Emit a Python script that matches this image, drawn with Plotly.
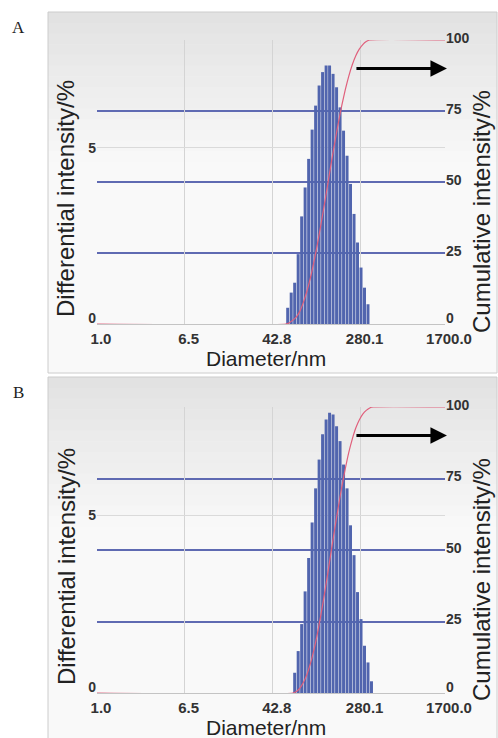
import numpy as np
import plotly.graph_objects as go

# ---------------- data ----------------
tick_values = [1.0, 6.5, 42.8, 280.1, 1700.0]
tick_labels = ["1.0", "6.5", "42.8", "280.1", "1700.0"]
left_ticks = [0, 5]
right_ticks = [0, 25, 50, 75, 100]

diam_a = [58.9, 63.5, 68.4, 73.7, 79.4, 85.5, 92.2, 99.3, 107.0, 115.3, 124.2, 133.9,
          144.2, 155.4, 167.5, 180.4, 194.4, 209.5, 225.7, 243.2, 262.1, 282.4, 304.3, 327.8]
diff_a = [0.46, 0.89, 1.17, 1.98, 3.05, 3.87, 4.68, 5.51, 6.19, 6.76, 7.14, 7.33,
          7.33, 7.09, 6.71, 6.14, 5.48, 4.77, 3.97, 3.12, 2.31, 1.60, 1.03, 0.56]

diam_b = [68.4, 73.7, 79.4, 85.5, 92.2, 99.3, 107.0, 115.3, 124.2, 133.9, 144.2, 155.4,
          167.5, 180.4, 194.4, 209.5, 225.7, 243.2, 262.1, 282.4, 304.3, 327.8, 353.2]
diff_b = [0.57, 1.18, 1.94, 2.86, 3.80, 4.80, 5.76, 6.57, 7.28, 7.70, 7.89, 7.84,
          7.51, 7.09, 6.43, 5.76, 4.72, 3.88, 2.84, 2.08, 1.33, 0.86, 0.33]

arrow_from = 248.0   # diameter where arrow starts
arrow_level = 90     # cumulative % level of arrow

# ---------------- helpers ----------------
W, H = 498, 738
FONT = "Arial, 'Liberation Sans', sans-serif"
BAR_COLOR = "#5165ae"
GRID_BLUE = "#5f6ab2"
LINE_RED = "#e0607c"
LEFT_MAX = 8.05


def px(x):
    return x / W


def py(y):
    return 1 - y / H


def cumulative(diam, vals):
    lx = np.log10(np.array(diam))
    step = np.diff(lx)
    edges = np.concatenate([[lx[0] - step[0] / 2], lx[:-1] + step / 2, [lx[-1] + step[-1] / 2]])
    cum = np.concatenate([[0.0], np.cumsum(vals) / np.sum(vals) * 100])
    x = np.concatenate([[np.log10(tick_values[0])], edges, [np.log10(tick_values[-1])]])
    y = np.concatenate([[0.0], cum, [100.0]])
    return x, y


fig = go.Figure()

panels = [
    dict(diam=diam_a, vals=diff_a, top=40, bottom=324, box=(12, 373), letter="A",
         letter_y=28, xa="x", ya="y", yb="y2", yc="y5", yd="y6"),
    dict(diam=diam_b, vals=diff_b, top=407, bottom=693, box=(377, 745), letter="B",
         letter_y=393, xa="x2", ya="y3", yb="y4", yc="y7", yd="y8"),
]

shapes = []
annotations = []


def axname(ref):
    return ref[0] + "axis" + ("" if ref[1:] in ("", "1") else ref[1:])


for i, p in enumerate(panels):
    # background panel with vertical gradient
    y0, y1 = p["box"]
    n = 14
    g0 = np.array([226, 226, 226])
    g1 = np.array([249, 249, 249])
    grad_end = y0 + 150
    for k in range(n):
        a = y0 + (grad_end - y0) * k / n
        b = y0 + (grad_end - y0) * (k + 1) / n
        c = g0 + (g1 - g0) * (k + 0.5) / n
        shapes.append(dict(type="rect", xref="paper", yref="paper", layer="below",
                           x0=px(48), x1=px(497), y0=py(b + 0.5), y1=py(a),
                           fillcolor="rgb(%d,%d,%d)" % tuple(c.astype(int)), line_width=0))
    shapes.append(dict(type="rect", xref="paper", yref="paper", layer="below",
                       x0=px(48), x1=px(497), y0=py(min(y1, H)), y1=py(grad_end),
                       fillcolor="rgb(249,249,249)", line_width=0))
    shapes.append(dict(type="rect", xref="paper", yref="paper", layer="below",
                       x0=px(48), x1=px(497), y0=py(y1), y1=py(y0),
                       fillcolor="rgba(0,0,0,0)", line=dict(color="#cccccc", width=1)))

    lx = np.log10(p["diam"])
    fig.add_trace(go.Bar(x=lx, y=p["vals"], xaxis=p["xa"], yaxis=p["ya"],
                         marker=dict(color=BAR_COLOR, line=dict(width=0)),
                         hoverinfo="skip"))
    cx, cy = cumulative(p["diam"], p["vals"])
    fig.add_trace(go.Scatter(x=cx, y=cy, xaxis=p["xa"], yaxis=p["yb"], mode="lines",
                             line=dict(color=LINE_RED, width=1.2, shape="spline", smoothing=0.6),
                             hoverinfo="skip"))
    # invisible helpers so the zero-label axes are laid out
    fig.add_trace(go.Scatter(x=[lx[0]], y=[0], xaxis=p["xa"], yaxis=p["yc"], mode="markers",
                             marker=dict(opacity=0), hoverinfo="skip"))
    fig.add_trace(go.Scatter(x=[lx[0]], y=[0], xaxis=p["xa"], yaxis=p["yd"], mode="markers",
                             marker=dict(opacity=0), hoverinfo="skip"))

    ctr = (p["top"] + p["bottom"]) / 2
    common = dict(xref="paper", yref="paper", showarrow=False, xanchor="center", yanchor="middle")
    annotations += [
        dict(text=p["letter"], x=px(18), y=py(p["letter_y"]),
             font=dict(family="'Times New Roman', 'Liberation Serif', serif", size=17, color="#222"),
             **common),
        dict(text="Differential intensity/%", x=px(66), y=py(ctr + 17), textangle=-90,
             font=dict(family=FONT, size=24, color="#222"), **common),
        dict(text="Cumulative intensity/%", x=px(481), y=py(ctr + 30), textangle=-90,
             font=dict(family=FONT, size=24, color="#222"), **common),
        dict(text="Diameter/nm", x=px(266), y=py(p["bottom"] + 34),
             font=dict(family=FONT, size=21, color="#222"), **common),
        dict(text="", x=np.log10(tick_values[-1]) + 0.018, y=arrow_level, xref=p["xa"], yref=p["yb"],
             ax=np.log10(arrow_from), ay=arrow_level, axref=p["xa"], ayref=p["yb"],
             showarrow=True, arrowhead=2, arrowsize=1.1, arrowwidth=3, arrowcolor="#000"),
    ]

    xdom = [px(97), px(445)]
    ydom = [py(p["bottom"]), py(p["top"])]
    xtickfont = dict(family=FONT, size=15, color="#333", weight="bold")
    ytickfont = dict(family=FONT, size=14, color="#333", weight="bold")
    base_y = dict(domain=ydom, anchor=p["xa"], showline=False, ticks="", tickfont=ytickfont,
                  automargin=False, tickmode="array")
    fig.update_layout(**{
        axname(p["xa"]): dict(domain=xdom, anchor=p["ya"], range=[0, np.log10(tick_values[-1])],
                              tickmode="array", tickvals=np.log10(tick_values), ticktext=tick_labels,
                              showgrid=True, gridcolor="#d4d4d4", gridwidth=1, zeroline=False,
                              showline=False, ticks="", tickfont=xtickfont, automargin=False,
                              ticklabelstandoff=4, ticklabelshift=4),
        # left axis: labels above zero
        axname(p["ya"]): dict(base_y, range=[0, LEFT_MAX], tickvals=left_ticks[1:],
                              showgrid=True, gridcolor="#dadada", gridwidth=1,
                              zeroline=True, zerolinecolor="#c4c4c4", zerolinewidth=1),
        # right axis: cumulative %
        axname(p["yb"]): dict(base_y, overlaying=p["ya"], side="right", range=[0, 100],
                              tickvals=right_ticks[1:], showgrid=False, zeroline=False,
                              ticklabelshift=-2,
                              minor=dict(tickmode="array", tickvals=right_ticks[1:], showgrid=True,
                                         gridcolor=GRID_BLUE, gridwidth=2, ticks="")),
        # zero labels (drawn slightly above the baseline, as in the original)
        axname(p["yc"]): dict(base_y, overlaying=p["ya"], side="left", range=[0, LEFT_MAX],
                              tickvals=left_ticks[:1], showgrid=False, zeroline=False,
                              ticklabelshift=-6),
        axname(p["yd"]): dict(base_y, overlaying=p["ya"], side="right", range=[0, 100],
                              tickvals=right_ticks[:1], showgrid=False, zeroline=False,
                              ticklabelshift=-6),
    })

fig.update_layout(
    template="none",
    width=W, height=H, margin=dict(l=0, r=0, t=0, b=0, autoexpand=False),
    paper_bgcolor="white", plot_bgcolor="rgba(0,0,0,0)",
    showlegend=False, bargap=0.14,
    shapes=shapes, annotations=annotations,
)

fig.write_html("out.html", config={"displayModeBar": False},
               post_script="document.body.style.margin='0px';document.body.style.padding='0px';")
